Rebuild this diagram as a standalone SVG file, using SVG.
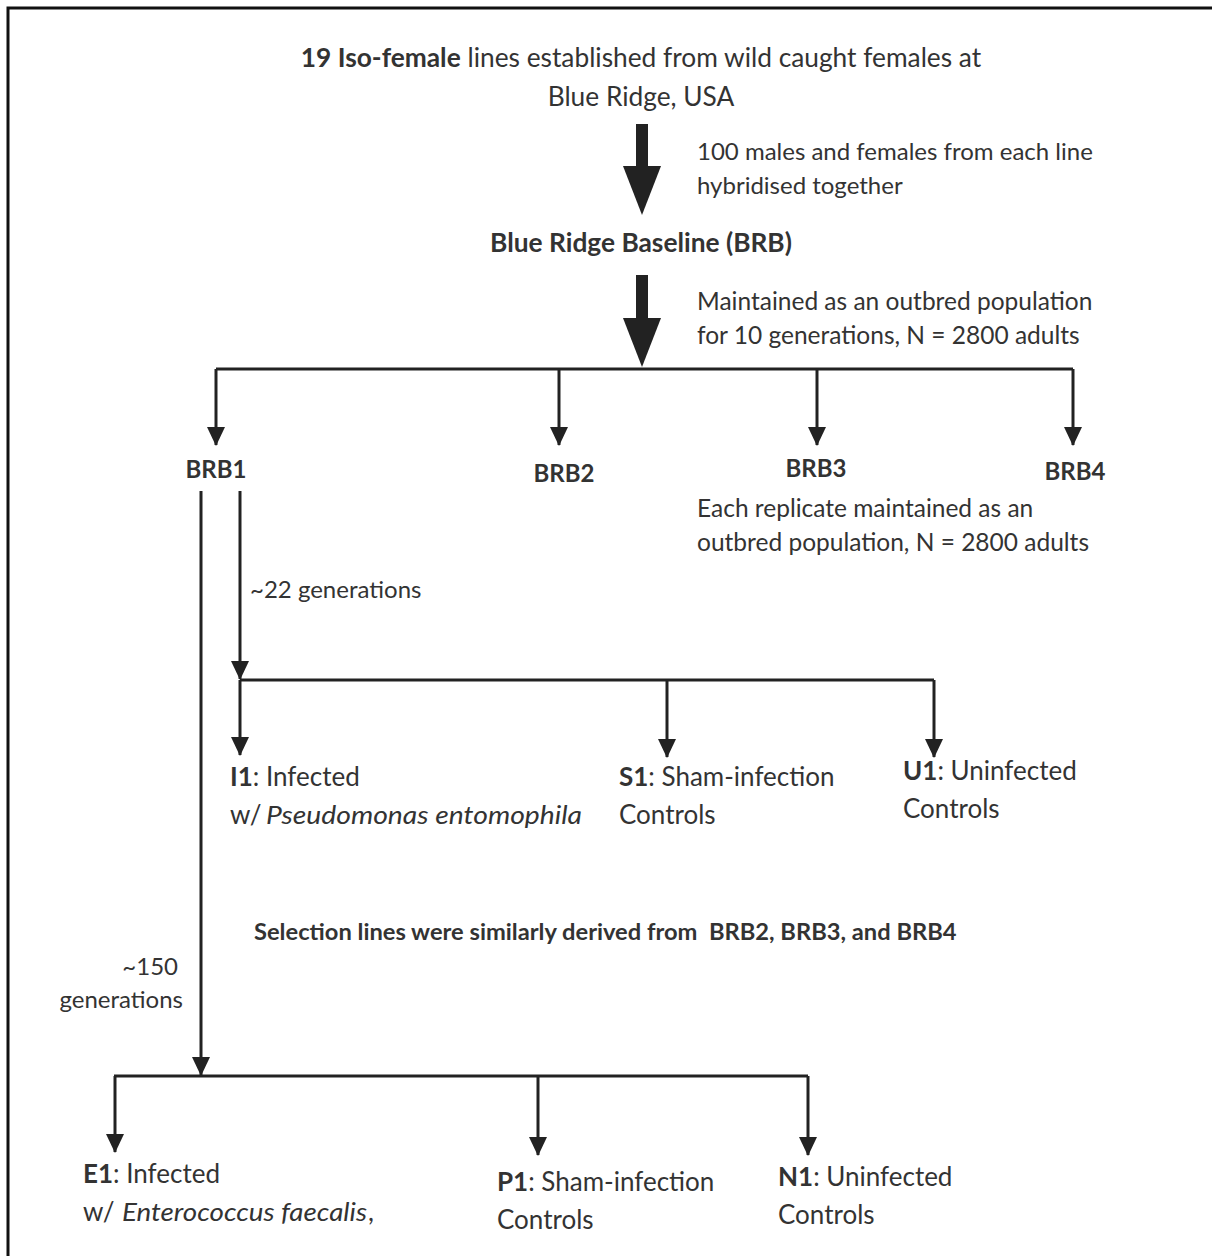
<svg xmlns="http://www.w3.org/2000/svg" width="1212" height="1256" viewBox="0 0 1212 1256">
<style>
text{font-family:Lato,"Open Sans","Liberation Sans",sans-serif;font-size:24px;fill:#333}
.t{font-size:26.3px}
.l{font-size:26px}
.b{font-weight:bold}
.i{font-style:italic}
.c{text-anchor:middle}
.r{text-anchor:end}
.ln{stroke:#222;stroke-width:3;fill:none}
.big{fill:#222}
</style>
<defs>
<marker id="av" markerUnits="userSpaceOnUse" markerWidth="19" markerHeight="18" refX="18" refY="9" orient="auto" viewBox="0 0 19 18">
<path d="M0,0 L19,9 L0,18 Z" fill="#222"/>
</marker>
</defs>
<rect x="8" y="8" width="1220" height="1270" fill="#fff" stroke="#111" stroke-width="3"/>

<g id="connectors">
<g id="bigarrow1" class="big"><rect x="636" y="124" width="12" height="43"/><path d="M623,166 L661,166 L642,215 Z"/></g>
<g id="bigarrow2" class="big"><rect x="636" y="275" width="12" height="44"/><path d="M623,318 L661,318 L642,367 Z"/></g>
<path class="ln" d="M216,369 L1073,369"/>
<path class="ln" d="M216,369 L216,445" marker-end="url(#av)"/>
<path class="ln" d="M559,369 L559,445" marker-end="url(#av)"/>
<path class="ln" d="M817,369 L817,445" marker-end="url(#av)"/>
<path class="ln" d="M1073,369 L1073,445" marker-end="url(#av)"/>
<path class="ln" d="M240,491 L240,679" marker-end="url(#av)"/>
<path class="ln" d="M240,680 L934,680"/>
<path class="ln" d="M240,680 L240,755" marker-end="url(#av)"/>
<path class="ln" d="M667,680 L667,757" marker-end="url(#av)"/>
<path class="ln" d="M934,680 L934,757" marker-end="url(#av)"/>
<path class="ln" d="M201,491 L201,1075" marker-end="url(#av)"/>
<path class="ln" d="M114,1076 L808,1076"/>
<path class="ln" d="M115,1076 L115,1152" marker-end="url(#av)"/>
<path class="ln" d="M538,1076 L538,1155" marker-end="url(#av)"/>
<path class="ln" d="M808,1076 L808,1155" marker-end="url(#av)"/>
</g>

<g id="iso">
<text x="641" y="67" class="c t"><tspan class="b">19 Iso-female</tspan> lines established from wild caught females at</text>
<text x="641" y="106" class="c t">Blue Ridge, USA</text>
</g>
<g id="label-hybrid">
<text x="697" y="160">100 males and females from each line</text>
<text x="697" y="194">hybridised together</text>
</g>
<g id="brb"><text x="641" y="252" class="c b t">Blue Ridge Baseline (BRB)</text></g>
<g id="label-maintained">
<text x="697" y="310" style="font-size:24.5px">Maintained as an outbred population</text>
<text x="697" y="344" style="font-size:24.5px">for 10 generations, N = 2800 adults</text>
</g>
<g id="brb1"><text x="216" y="478" class="c b">BRB1</text></g>
<g id="brb2"><text x="564" y="482" class="c b">BRB2</text></g>
<g id="brb3"><text x="816" y="477" class="c b">BRB3</text></g>
<g id="brb4"><text x="1075" y="480" class="c b">BRB4</text></g>
<g id="label-replicate">
<text x="697" y="517" style="font-size:24.5px">Each replicate maintained as an</text>
<text x="697" y="551" style="font-size:24.5px">outbred population, N = 2800 adults</text>
</g>
<g id="label-22"><text x="250" y="598">~22 generations</text></g>
<g id="i1">
<text x="230" y="786" class="l"><tspan class="b">I1</tspan>: Infected</text>
<text x="230" y="824" class="l">w/</text>
<text x="266" y="824" class="l i" textLength="316" lengthAdjust="spacingAndGlyphs">Pseudomonas entomophila</text>
</g>
<g id="s1">
<text x="619" y="786" class="l"><tspan class="b">S1</tspan>: Sham-infection</text>
<text x="619" y="824" class="l">Controls</text>
</g>
<g id="u1">
<text x="903" y="780" class="l"><tspan class="b">U1</tspan>: Uninfected</text>
<text x="903" y="818" class="l">Controls</text>
</g>
<g id="note"><text x="254" y="940" class="b" xml:space="preserve" style="font-size:23.7px;white-space:pre">Selection lines were similarly derived from  BRB2, BRB3, and BRB4</text></g>
<g id="label-150">
<text x="178" y="975" class="r">~150</text>
<text x="183" y="1008" class="r">generations</text>
</g>
<g id="e1">
<text x="83" y="1183" class="l"><tspan class="b">E1</tspan>: Infected</text>
<text x="83" y="1221" class="l">w/</text>
<text x="122" y="1221" class="l i" textLength="245" lengthAdjust="spacingAndGlyphs">Enterococcus faecalis</text>
<text x="368" y="1221" class="l">,</text>
</g>
<g id="p1">
<text x="497" y="1191" class="l"><tspan class="b">P1</tspan>: Sham-infection</text>
<text x="497" y="1229" class="l">Controls</text>
</g>
<g id="n1">
<text x="778" y="1186" class="l"><tspan class="b">N1</tspan>: Uninfected</text>
<text x="778" y="1224" class="l">Controls</text>
</g>
</svg>
